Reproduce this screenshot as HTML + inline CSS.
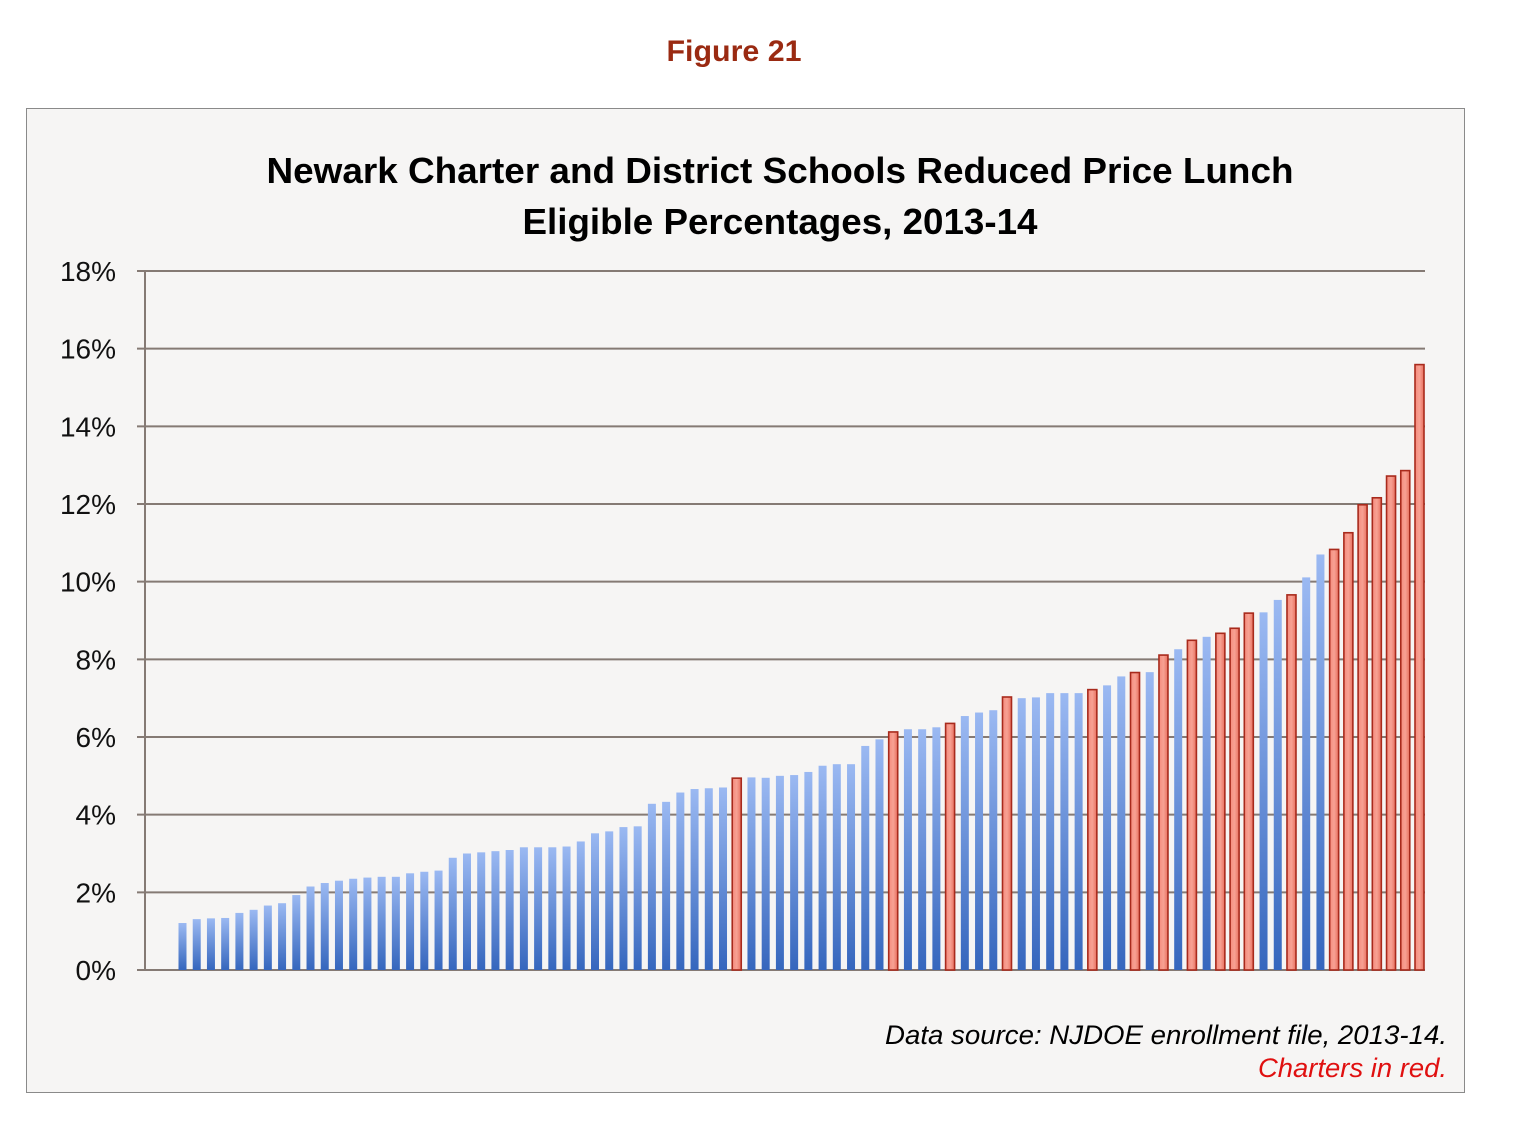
<!DOCTYPE html>
<html><head><meta charset="utf-8"><style>
body{margin:0;background:#fff;width:1516px;height:1128px;overflow:hidden;font-family:"Liberation Sans",sans-serif;}
</style></head><body>
<svg width="1516" height="1128">
<defs>
<linearGradient id="bg" x1="0" y1="0" x2="0" y2="1"><stop offset="0" stop-color="#9bb9f2"/><stop offset="1" stop-color="#3566bd"/></linearGradient>
<linearGradient id="rg" x1="0" y1="0" x2="1" y2="0"><stop offset="0" stop-color="#f58b7d"/><stop offset="0.5" stop-color="#f7a193"/><stop offset="1" stop-color="#e8705f"/></linearGradient>
</defs>
<text x="734" y="61" text-anchor="middle" font-size="30" font-weight="bold" fill="#9a2a12" textLength="135" lengthAdjust="spacingAndGlyphs">Figure 21</text>
<rect x="26.5" y="108.5" width="1438" height="984" fill="#f6f5f4" stroke="#8a8a8a"/>
<text x="780" y="183" text-anchor="middle" font-size="36" font-weight="bold" fill="#000" textLength="1027" lengthAdjust="spacingAndGlyphs">Newark Charter and District Schools Reduced Price Lunch</text>
<text x="780" y="234" text-anchor="middle" font-size="36" font-weight="bold" fill="#000" textLength="515" lengthAdjust="spacingAndGlyphs">Eligible Percentages, 2013-14</text>
<g id="grid"></g>
<g id="bars"></g>
<text x="1447" y="1044" text-anchor="end" font-size="27" font-style="italic" fill="#000" textLength="562" lengthAdjust="spacingAndGlyphs">Data source: NJDOE enrollment file, 2013-14.</text>
<text x="1447" y="1077" text-anchor="end" font-size="27" font-style="italic" fill="#e01010" textLength="189" lengthAdjust="spacingAndGlyphs">Charters in red.</text>
</svg>
<script>
const tickValues=[0,2,4,6,8,10,12,14,16,18];
const tickLabels=["0%","2%","4%","6%","8%","10%","12%","14%","16%","18%"];
const values=[1.21,1.31,1.33,1.34,1.47,1.55,1.66,1.72,1.93,2.15,2.24,2.3,2.35,2.38,2.4,2.4,2.49,2.53,2.56,2.89,3.0,3.03,3.06,3.09,3.16,3.16,3.16,3.18,3.31,3.52,3.57,3.68,3.7,4.28,4.33,4.57,4.66,4.68,4.7,4.94,4.96,4.95,5.0,5.02,5.1,5.26,5.3,5.3,5.77,5.94,6.13,6.2,6.2,6.25,6.35,6.54,6.63,6.69,7.03,7.0,7.02,7.13,7.13,7.13,7.22,7.33,7.56,7.66,7.67,8.11,8.26,8.49,8.58,8.67,8.8,9.19,9.21,9.53,9.66,10.11,10.7,10.83,11.26,11.98,12.16,12.72,12.86,15.59];
const charterIdx=[39,50,54,58,64,67,69,71,73,74,75,78,81,82,83,84,85,86,87];
const NS="http://www.w3.org/2000/svg";
const y0=970,y1=271,yMax=18;
const y=v=>y0-(v/yMax)*(y0-y1);
const x=i=>182+i*(1419.5-182)/(values.length-1);
const grid=document.getElementById('grid'),bars=document.getElementById('bars');
function mk(tag,attrs,parent){const e=document.createElementNS(NS,tag);for(const k in attrs)e.setAttribute(k,attrs[k]);parent.appendChild(e);return e;}
tickValues.forEach((t,k)=>{
  const l=mk('line',{x1:137,x2:1425,y1:y(t),y2:y(t),stroke:'#857a74','stroke-width':2},grid);
  
  
  const tx=mk('text',{x:116,y:y(t)+10,'text-anchor':'end','font-size':28,fill:'#111'},grid);
  tx.textContent=tickLabels[k];
  
  
});
const ax=mk('line',{x1:145,x2:145,y1:y1,y2:y0,stroke:'#857a74','stroke-width':2},grid);


values.forEach((v,i)=>{
  const red=charterIdx.includes(i);
  const cx=x(i);
  let r;
  if(red){
    r=mk('rect',{x:cx-4.5,y:y(v),width:9,height:y0-y(v),fill:'url(#rg)',stroke:'#a82a1c','stroke-width':1.6},bars);
    
  }else{
    r=mk('rect',{x:cx-3.5,y:y(v),width:8,height:y0-y(v),fill:'url(#bg)'},bars);
    
  }
  
});
</script>
</body></html>
